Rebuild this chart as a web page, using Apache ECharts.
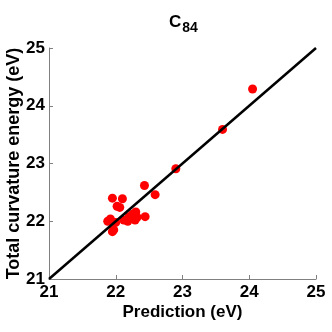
<!DOCTYPE html>
<html>
<head>
<meta charset="utf-8">
<script src="https://cdn.jsdelivr.net/npm/echarts@6/dist/echarts.min.js"></script>
<style>
    html, body {margin: 0; padding: 0; background: #fff;}
    #chart {width: 332px; height: 332px;}
</style>
</head>
<body>
<div id="chart"></div>
<script>
    // prediction (x) vs total curvature energy (y), eV
    var prediction = [21.88, 21.92, 21.95, 22.10, 22.02, 22.06, 21.97, 21.95, 22.00, 22.12, 22.20,
        22.25, 22.30, 22.32, 22.29, 22.44, 22.43, 22.59, 22.90, 23.60, 24.05, 22.18];
    var energy = [22.00, 22.04, 22.40, 22.39, 22.26, 22.24, 21.85, 21.82, 21.98, 22.02, 22.08,
        22.12, 22.16, 22.07, 22.02, 22.08, 22.62, 22.46, 22.91, 23.59, 24.29, 22.00];
    var diagonal = [21, 25];

    var points = [];
    for (var i = 0; i < prediction.length; i++) {
        points.push([prediction[i], energy[i]]);
    }

    var font = 'Liberation Sans, Arial, sans-serif';
    var myChart = echarts.init(document.getElementById('chart'));
    myChart.setOption({
        animation: false,
        title: {
            text: '{c|C}{s|84}',
            left: 164,
            top: 4,
            textStyle: {
                rich: {
                    c: {fontFamily: font, fontWeight: 'bold', fontSize: 17, color: '#000'},
                    s: {fontFamily: font, fontWeight: 'bold', fontSize: 14, color: '#000', padding: [12, 0, 0, 1]}
                }
            }
        },
        grid: {left: 49, right: 16, top: 48, bottom: 53, outerBoundsMode: 'none'},
        xAxis: {
            type: 'value', min: 21, max: 25, interval: 1,
            name: 'Prediction (eV)', nameLocation: 'middle', nameGap: 25, nameMoveOverlap: false,
            nameTextStyle: {fontFamily: font, fontWeight: 'bold', fontSize: 17, color: '#000'},
            axisLine: {lineStyle: {color: '#808080', width: 1}},
            axisTick: {inside: true, length: 4, lineStyle: {color: '#808080'}},
            axisLabel: {fontFamily: font, fontWeight: 'bold', fontSize: 17, color: '#000', margin: 5},
            splitLine: {show: false}
        },
        yAxis: {
            type: 'value', min: 21, max: 25, interval: 1,
            name: 'Total curvature energy (eV)', nameLocation: 'middle', nameGap: 26, nameMoveOverlap: false,
            nameTextStyle: {fontFamily: font, fontWeight: 'bold', fontSize: 18, color: '#000'},
            axisLine: {show: true, lineStyle: {color: '#808080', width: 1}},
            axisTick: {show: true, inside: true, length: 4, lineStyle: {color: '#808080'}},
            axisLabel: {fontFamily: font, fontWeight: 'bold', fontSize: 17, color: '#000', margin: 4},
            splitLine: {show: false}
        },
        series: [{
            type: 'scatter',
            data: points,
            symbolSize: 9,
            itemStyle: {color: '#ff0000', opacity: 1},
            z: 2
        }, {
            type: 'line',
            data: [[diagonal[0], diagonal[0]], [diagonal[1], diagonal[1]]],
            symbol: 'none',
            lineStyle: {color: '#000', width: 2.5},
            z: 3
        }]
    });
</script>
</body>
</html>
